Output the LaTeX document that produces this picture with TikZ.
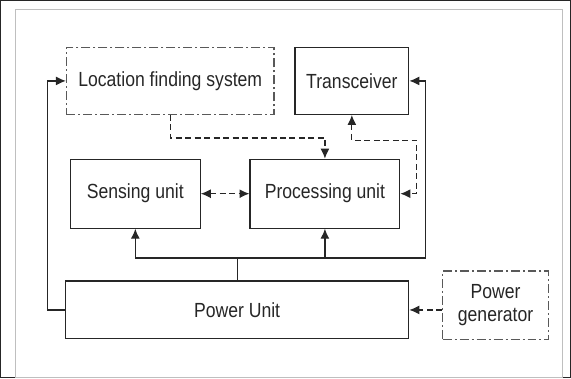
\documentclass[tikz,border=0pt]{standalone}
\usepackage{fontspec}
\setmainfont[FakeStretch=0.86]{Liberation Sans}
\usetikzlibrary{arrows.meta}
\usetikzlibrary{calc}

\begin{document}
\begin{tikzpicture}[x=1pt, y=-1pt, every path/.style={very thick, draw=black!85}, every node/.style={draw, inner sep=0pt, font=\fontsize{20.5}{23}\selectfont, text=black!85}, optional/.style={dash pattern=on 9pt off 3pt on 2pt off 3pt, draw=black!65}, flow/.style={dash pattern=on 6pt off 3.5pt}]
\useasboundingbox (0,0) rectangle (571,378);
\draw[thin, draw=black!25] (15,9) rectangle (563,377);

\node[optional, minimum width=208pt, minimum height=67pt] (locate) at (170,80.5) {Location finding system};
\node[minimum width=114pt, minimum height=67pt] (radio) at (352,80.5) {Transceiver};
\node[minimum width=130pt, minimum height=69pt] (sense) at (135,193.5) {Sensing unit};
\node[minimum width=150pt, minimum height=69pt] (proc) at (325,193.5) {Processing unit};
\node[minimum width=344pt, minimum height=58pt] (power) at (237,310) {Power Unit};
\node[optional, minimum width=106pt, minimum height=69pt, align=center] (gen) at (496,305.5) {Power\\generator};
\coordinate (bus) at (237,258);

\draw[-{Latex[length=10pt,width=9pt]}] (power.west) -- ++(-17,0) |- (locate.west);
\draw (power.north) -- (bus);
\draw[-{Latex[length=10pt,width=9pt]}] (bus) -| (sense.south);
\draw[-{Latex[length=10pt,width=9pt]}] (bus) -| (proc.south);
\draw[-{Latex[length=10pt,width=9pt]}] (bus) -- (426,258) |- (radio.east);
\draw[flow, -{Latex[length=10pt,width=9pt]}] (locate.south) -- ++(0,23) -| (proc.north);
\draw[flow, {Latex[length=10pt,width=9pt]}-{Latex[length=10pt,width=9pt]}] (radio.south) |- (417,140) |- (proc.east);
\draw[flow, {Latex[length=10pt,width=9pt]}-{Latex[length=10pt,width=9pt]}] (sense) -- (proc);
\draw[flow, -{Latex[length=10pt,width=9pt]}] (gen.west |- power.east) -- (power.east);
\end{tikzpicture}
\end{document}
